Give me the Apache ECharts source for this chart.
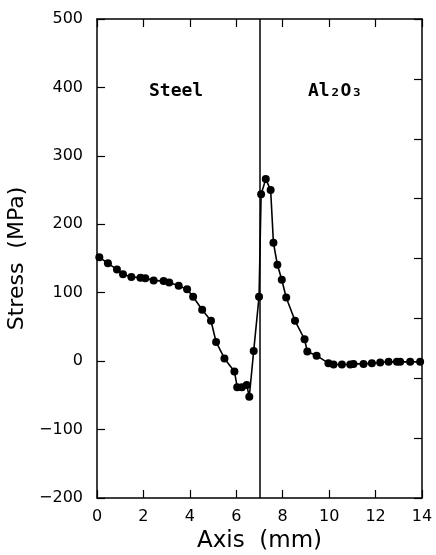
<!DOCTYPE html>
<html>
<head>
<meta charset="utf-8">
<script src="https://cdn.jsdelivr.net/npm/echarts@6/dist/echarts.min.js"></script>
<style>
  html, body { margin: 0; padding: 0; background: #fff; }
  #chart { width: 436px; height: 555px; }
</style>
</head>
<body>
<div id="chart"></div>
<script>
// axis position (mm) and residual stress (MPa)
const axisMm = [0.1, 0.47, 0.86, 1.12, 1.48, 1.87, 2.08, 2.44, 2.87, 3.11,
  3.52, 3.88, 4.14, 4.53, 4.91, 5.13, 5.49, 5.92, 6.04, 6.24,
  6.45, 6.56, 6.75, 6.98, 7.07, 7.27, 7.48, 7.6, 7.77, 7.96,
  8.15, 8.53, 8.94, 9.06, 9.46, 9.97, 10.19, 10.55, 10.91, 11.05,
  11.48, 11.84, 12.2, 12.56, 12.92, 13.06, 13.49, 13.92];
const stressMPa = [152, 143, 134, 127, 123, 122, 121, 118, 117, 115,
  110, 105, 94, 75, 59, 28, 4, -15, -38, -38,
  -35, -52, 15, 94, 244, 266, 250, 173, 141, 119,
  93, 59, 32, 14, 8, -3, -5, -5, -5, -4,
  -4, -3, -2, -1, -1, -1, -1, -1];
const interfaceMm = 7;
const regionLabels = ["Steel", "Al\u2082O\u2083"];

const chart = echarts.init(document.getElementById("chart"), null, { renderer: "canvas" });

const black = "#000";
const lineW = 1.5;
const labelFont = "DejaVu Sans";

const frameAxis = {
  axisLine: { show: true, onZero: false, lineStyle: { color: black, width: lineW } },
  axisTick: { show: true, inside: true, length: 8, lineStyle: { color: black, width: 1.2 } },
  splitLine: { show: false },
};

const option = {
  animation: false,
  backgroundColor: "#fff",
  grid: { left: 97, right: 14, top: 19, bottom: 57, outerBoundsMode: "none" },
  xAxis: [
    {
      ...frameAxis,
      type: "value",
      min: 0,
      max: 14,
      interval: 2,
      name: "Axis  (mm)",
      nameLocation: "middle",
      nameGap: 30,
      nameTextStyle: { color: black, fontFamily: labelFont, fontSize: 23 },
      axisLabel: { color: black, fontFamily: labelFont, fontSize: 16, margin: 11 },
    },
    {
      ...frameAxis,
      type: "value",
      position: "top",
      min: 0,
      max: 14,
      interval: 2,
      axisLabel: { show: false },
    },
  ],
  yAxis: [
    {
      ...frameAxis,
      type: "value",
      min: -200,
      max: 500,
      interval: 100,
      name: "Stress  (MPa)",
      nameLocation: "middle",
      nameGap: 61,
      nameRotate: 90,
      nameTextStyle: { color: black, fontFamily: labelFont, fontSize: 22 },
      axisLabel: {
        color: black,
        fontFamily: labelFont,
        fontSize: 16,
        margin: 14,
        formatter: (v) => String(v).replace("-", "\u2212"),
      },
    },
    {
      ...frameAxis,
      type: "value",
      position: "right",
      min: 0,
      max: 8,
      interval: 1,
      axisLabel: { show: false },
    },
  ],
  graphic: [
    {
      type: "text",
      left: 149,
      top: 82,
      style: { text: regionLabels[0], fill: black, font: "bold 18px 'DejaVu Sans Mono'" },
    },
    {
      type: "text",
      left: 308,
      top: 82,
      style: { text: regionLabels[1], fill: black, font: "bold 18px 'DejaVu Sans Mono'" },
    },
  ],
  series: [
    {
      type: "line",
      data: axisMm.map((x, i) => [x, stressMPa[i]]),
      symbol: "circle",
      symbolSize: 8,
      showSymbol: true,
      lineStyle: { color: black, width: 1.6 },
      itemStyle: { color: black },
      z: 3,
      markLine: {
        silent: true,
        symbol: ["none", "none"],
        label: { show: false },
        lineStyle: { color: black, width: lineW, type: "solid" },
        data: [{ xAxis: interfaceMm }],
      },
    },
  ],
};

chart.setOption(option);
</script>
</body>
</html>
